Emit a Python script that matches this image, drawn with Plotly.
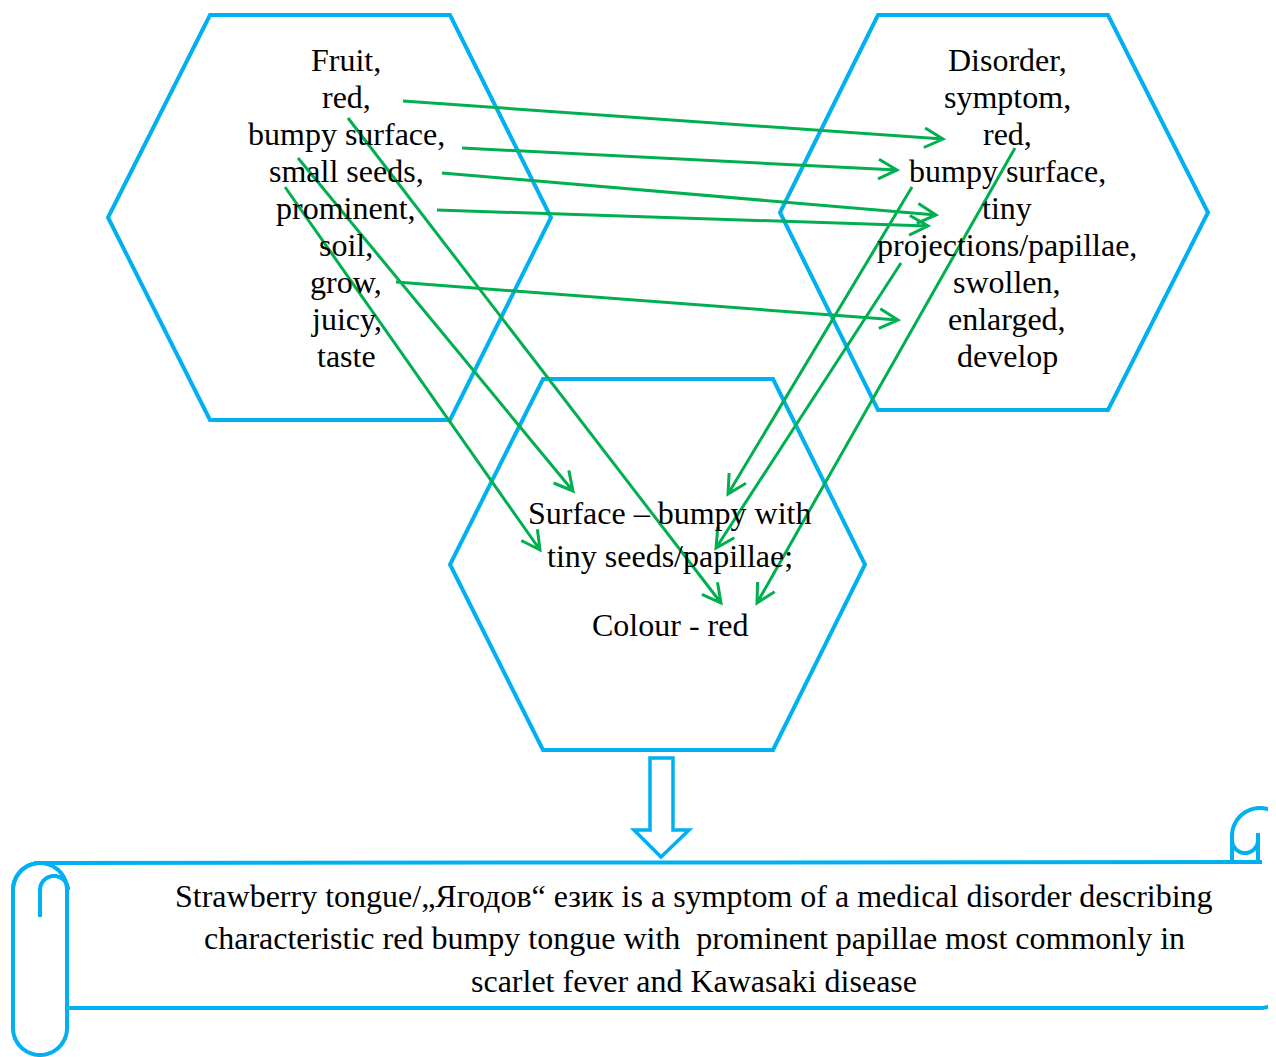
import numpy as np
import plotly.graph_objects as go

W, H = 1276, 1057
OFF = 8  # default page body margin
BLUE = "#00B0F0"
GREEN = "#00B050"
FONT = "Liberation Serif, Times New Roman, serif"

# ---------------- data (texts) ----------------
fruit_words = ["Fruit,", "red,", "bumpy surface,", "small seeds,", "prominent,",
               "soil,", "grow,", "juicy,", "taste"]
disorder_words = ["Disorder,", "symptom,", "red,", "bumpy surface,", "tiny",
                  "projections/papillae,", "swollen,", "enlarged,", "develop"]
tongue_lines = ["Surface \u2013 bumpy with", "tiny seeds/papillae;", "Colour - red"]
scroll_lines = ["Strawberry tongue/\u201eЯгодов\u201c език is a symptom of a medical disorder describing",
                "characteristic red bumpy tongue with\u00a0 prominent papillae most commonly in",
                "scarlet fever and Kawasaki disease"]

# connections between words (tail -> head), in page pixels
arrow_tails = [(403, 101), (462, 148), (442, 173), (437, 210), (396, 282),
               (348, 118), (298, 158), (285, 187),
               (912, 187), (901, 263), (1015, 148)]
arrow_heads = [(943, 139), (897, 170), (936, 215), (928, 226), (898, 320),
               (721, 603), (573, 491), (540, 550),
               (728, 494), (716, 548), (757, 603)]

# ---------------- layout geometry ----------------
hexagons = [  # (left, inner-left, inner-right, right, top, bottom)
    (108, 210, 450, 551, 15, 420),
    (780, 878, 1108, 1208, 15, 410),
    (450, 543, 773, 865, 379, 750),
]
text_blocks = [(346, 60, 37, fruit_words), (1007, 60, 37, disorder_words)]


def hex_path(l, il, ir, r, t, b):
    m = (t + b) / 2
    return f"M{il},{t} L{ir},{t} L{r},{m} L{ir},{b} L{il},{b} L{l},{m} Z"


def arc(cx, cy, rad, a0, a1, n=40, start=True):
    a = np.radians(np.linspace(a0, a1, n))
    xs = cx + rad * np.cos(a)
    ys = cy + rad * np.sin(a)
    pts = [f"{x:.1f},{y:.1f}" for x, y in zip(xs, ys)]
    return ("M" if start else "L") + pts[0] + " " + " ".join("L" + p for p in pts[1:])


shapes = []
for hx in hexagons:
    shapes.append(dict(type="path", path=hex_path(*hx),
                       line=dict(color=BLUE, width=4), fillcolor="rgba(0,0,0,0)"))

# scroll
scroll_paths = [
    # top edge with top-left rounded corner
    arc(40, 890, 27, 180, 270) + " L1262,862",
    # bottom half of the left curl
    arc(40, 890, 27, 180, 360),
    # small inner curl
    "M40,917 L40,890 " + arc(54, 890, 14, 180, 360, start=False),
    # left rolled cylinder
    "M13,890 L13,1028 " + arc(40, 1028, 27, 180, 0, start=False) + " L67,890",
    # bottom edge with right corner, right side and top-right curl
    "M67,1008 L1260,1008 " + arc(1260, 980, 28, 90, 0, start=False)
    + " L1288,836 " + arc(1260, 836, 28, 0, -180, start=False) + " L1232,862",
    # small curl top-right
    arc(1245, 840, 13, 180, 0) + " M1258,833 L1258,862",
]
for p in scroll_paths:
    shapes.append(dict(type="path", path=p, line=dict(color=BLUE, width=4)))

# block down arrow
shapes.append(dict(type="path",
                   path="M650,758 L673,758 L673,830 L689,830 L661,857 L634,830 L650,830 Z",
                   line=dict(color=BLUE, width=3.5), fillcolor="white"))

annotations = []
FS = 32
for cx, y0, dy, words in text_blocks:
    for i, w in enumerate(words):
        annotations.append(dict(x=cx, y=y0 + i * dy, text=w, showarrow=False,
                                xanchor="center", yanchor="middle",
                                font=dict(family=FONT, size=FS, color="black")))
for w, y in zip(tongue_lines, [513, 556, 625]):
    annotations.append(dict(x=670, y=y, text=w, showarrow=False, xanchor="center",
                            yanchor="middle", font=dict(family=FONT, size=FS, color="black")))
for w, y in zip(scroll_lines, [896, 938, 981]):
    annotations.append(dict(x=694, y=y, text=w, showarrow=False, xanchor="center",
                            yanchor="middle", font=dict(family=FONT, size=FS, color="black")))

# green arrows (drawn above the text)
L_HEAD, ANG = 21, np.radians(28)
for (x0, y0), (x1, y1) in zip(arrow_tails, arrow_heads):
    d = np.array([x1 - x0, y1 - y0], float)
    d /= np.linalg.norm(d)
    wings = []
    for s in (1, -1):
        c, sn = np.cos(s * ANG), np.sin(s * ANG)
        r = np.array([c * d[0] - sn * d[1], sn * d[0] + c * d[1]])
        wings.append((x1 - L_HEAD * r[0], y1 - L_HEAD * r[1]))
    path = (f"M{x0},{y0} L{x1},{y1} M{wings[0][0]:.1f},{wings[0][1]:.1f} "
            f"L{x1},{y1} L{wings[1][0]:.1f},{wings[1][1]:.1f}")
    shapes.append(dict(type="path", path=path, layer="above",
                       line=dict(color=GREEN, width=3)))

fig = go.Figure()
fig.update_layout(
    width=W, height=H, margin=dict(l=0, r=0, t=0, b=0),
    paper_bgcolor="white", plot_bgcolor="white",
    xaxis=dict(range=[OFF, W + OFF], visible=False, fixedrange=True),
    yaxis=dict(range=[H + OFF, OFF], visible=False, fixedrange=True),
    shapes=shapes, annotations=annotations, showlegend=False,
)
fig.write_html("out.html")
